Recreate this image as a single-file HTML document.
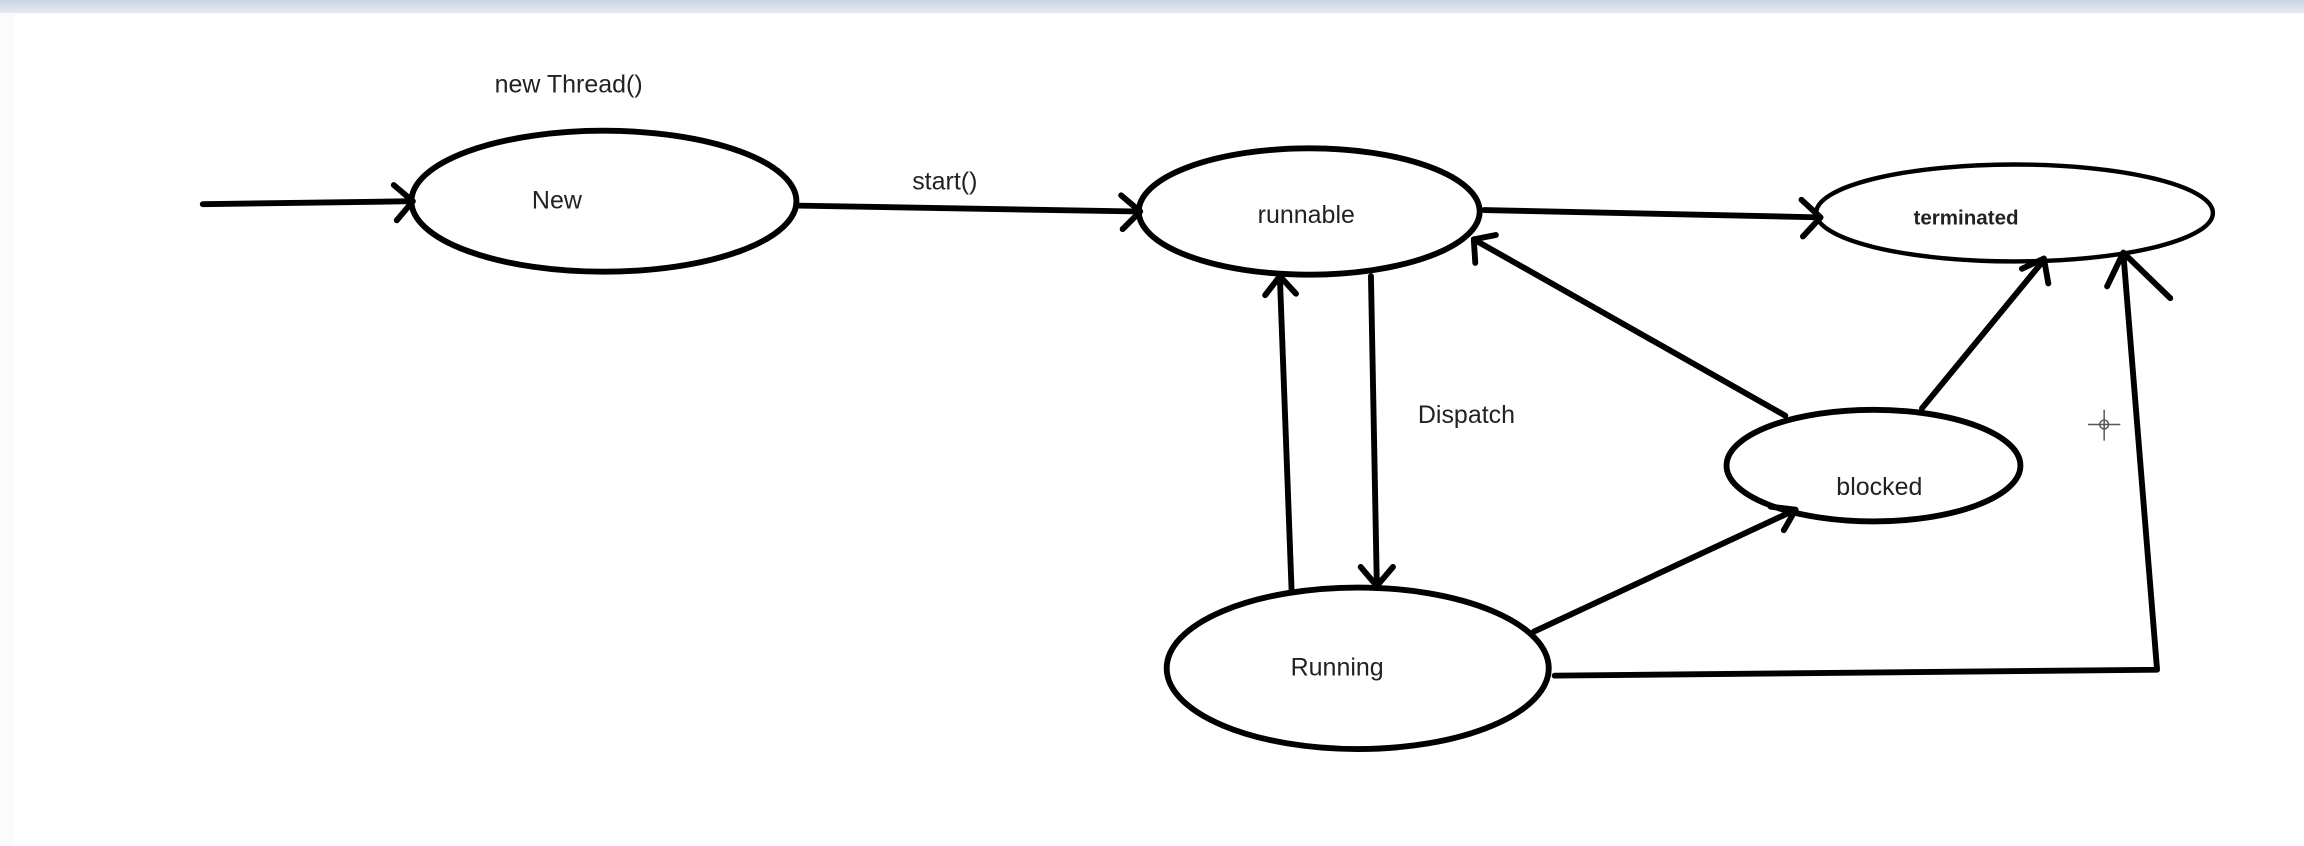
<!DOCTYPE html>
<html><head><meta charset="utf-8"><style>
html,body{margin:0;padding:0;background:#fff;width:2304px;height:846px;overflow:hidden}
svg{display:block}
text{font-family:"Liberation Sans",sans-serif;fill:#222}
</style></head><body>
<svg width="2304" height="846" viewBox="0 0 1568 576" preserveAspectRatio="none" xmlns="http://www.w3.org/2000/svg">
<defs><linearGradient id="g" x1="0" y1="0" x2="0" y2="1"><stop offset="0" stop-color="#c9d3e3"/><stop offset="1" stop-color="#e6ebf3"/></linearGradient></defs>
<rect width="1568" height="576" fill="#fff"/>
<rect width="1568" height="9" fill="url(#g)"/>
<rect x="0" y="9" width="10" height="567" fill="#fafbfc"/>
<g fill="none" stroke="#000" stroke-width="4" stroke-linecap="round" stroke-linejoin="round">
<ellipse cx="411" cy="137" rx="131" ry="48"/>
<ellipse cx="891" cy="144" rx="116" ry="43"/>
<ellipse cx="1371" cy="145" rx="135" ry="33" stroke-width="3"/>
<ellipse cx="1275" cy="317" rx="100" ry="38"/>
<ellipse cx="924" cy="455" rx="130" ry="55"/>
<path d="M138 139 L280 137 M268 126 L281 137 L270 150"/>
<path d="M543 140 L775 144 M763 133 L776 144 L764 156"/>
<path d="M1010 143 L1238 148 M1226 136 L1239 148 L1227 161"/>
<path d="M879 402 L871 188 M861 201 L871 188 L882 200"/>
<path d="M933 188 L937 398 M926 386 L937 399 L948 386"/>
<path d="M1215 283 L1003 163 M1004 179 L1003 163 L1018 160"/>
<path d="M1308 278 L1391 177 M1376 183 L1391 176 L1394 193"/>
<path d="M1044 430 L1222 347 M1205 345 L1222 347 L1214 361"/>
<path d="M1058 460 L1468 456 L1445 172 M1434 195 L1445 172 L1477 203"/>
</g>
<g stroke="#555" stroke-width="1"><path d="M1432 279 V300 M1421 289 H1443"/></g>
<circle cx="1432" cy="289" r="3" fill="none" stroke="#555" stroke-width="1"/>
<g font-size="17" text-anchor="middle">
<text x="387" y="63">new Thread()</text>
<text x="643" y="129">start()</text>
<text x="998" y="288">Dispatch</text>
<text x="379" y="142">New</text>
<text x="889" y="152">runnable</text>
<text x="1338" y="153" font-size="14" font-weight="bold" fill="#333">terminated</text>
<text x="1279" y="337">blocked</text>
<text x="910" y="460">Running</text>
</g>
</svg>
</body></html>
